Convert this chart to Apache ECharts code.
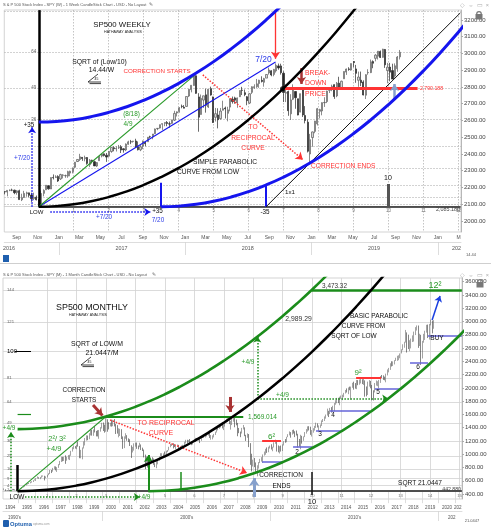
<!DOCTYPE html>
<html><head><meta charset="utf-8">
<script src="https://cdn.jsdelivr.net/npm/echarts@6.0.0/dist/echarts.min.js"></script>
<style>html,body{margin:0;padding:0;background:#fff}#c{width:491px;height:531px}</style>
</head><body><div id="c"></div>
<script>
// ================= DATA =================
// Weekly S&P 500 candles [open, high, low, close], one per week (Fridays) from weeklyStart
const weeklyStart = '2016-07-29';
const weeklyOHLC = [
[2175,2178,2159,2173.6],[2173,2183,2147,2182.9],[2183,2188,2178,2184.1],[2184,2193,2178,2183.9],[2184,2187,2160,2169.0],
[2170,2184,2157,2180.0],[2181,2187,2127,2127.8],[2127,2163,2119,2139.2],[2140,2180,2139,2164.7],[2164,2175,2145,2168.3],
[2168,2169,2142,2153.7],[2155,2169,2114,2133.0],[2134,2169,2124,2141.2],[2142,2152,2123,2126.4],[2127,2131,2084,2085.2],
[2090,2182,2084,2164.5],[2165,2189,2147,2181.9],[2186,2214,2186,2213.4],[2210,2214,2187,2191.9],[2191,2260,2191,2259.5],
[2260,2278,2248,2258.1],[2260,2273,2258,2263.8],[2266,2273,2233,2238.8],
[2251,2282,2245,2277.0],[2273,2279,2254,2274.6],[2270,2277,2258,2271.3],[2268,2300,2258,2294.7],[2286,2300,2267,2297.4],
[2294,2319,2284,2316.1],[2321,2352,2316,2351.2],[2355,2368,2352,2367.3],[2367,2401,2358,2383.1],[2380,2382,2359,2372.6],
[2372,2390,2356,2378.3],[2379,2382,2336,2344.0],[2336,2370,2322,2362.7],[2363,2366,2343,2355.5],[2354,2360,2328,2329.0],
[2328,2352,2322,2348.7],[2360,2392,2360,2384.2],[2388,2399,2380,2399.3],[2401,2403,2385,2390.9],[2393,2406,2353,2381.7],
[2387,2418,2383,2415.8],[2415,2440,2407,2439.1],[2437,2446,2416,2431.8],[2431,2446,2415,2433.2],[2437,2454,2430,2438.3],
[2443,2453,2406,2423.4],[2431,2434,2408,2425.2],[2424,2463,2417,2459.3],[2458,2479,2455,2472.5],[2473,2484,2459,2472.1],
[2475,2478,2468,2476.8],[2478,2491,2437,2441.3],[2444,2475,2421,2425.6],[2425,2454,2417,2443.1],[2447,2480,2429,2476.6],
[2470,2473,2446,2461.4],[2473,2500,2473,2500.2],[2503,2509,2496,2502.2],[2503,2519,2488,2519.4],[2521,2552,2520,2549.3],
[2551,2555,2542,2553.2],[2555,2575,2552,2575.2],[2578,2582,2544,2581.1],[2583,2588,2566,2587.8],[2588,2597,2566,2582.3],
[2580,2594,2557,2578.9],[2583,2605,2580,2602.4],[2602,2658,2597,2642.2],[2645,2654,2624,2651.5],[2653,2680,2647,2675.8],
[2685,2695,2673,2683.3],[2679,2692,2673,2673.6],
[2684,2743,2682,2743.2],[2746,2787,2740,2786.2],[2784,2810,2768,2810.3],[2809,2873,2808,2872.9],[2867,2870,2759,2762.1],
[2741,2763,2533,2619.6],[2636,2755,2635,2732.2],[2722,2748,2675,2747.3],[2753,2790,2647,2691.3],[2681,2787,2675,2786.6],
[2790,2802,2748,2752.0],[2741,2742,2585,2588.3],[2619,2675,2594,2640.9],[2633,2673,2553,2604.5],[2611,2675,2605,2656.3],
[2661,2718,2660,2670.1],[2675,2683,2612,2669.9],[2643,2682,2595,2663.4],[2680,2732,2655,2727.7],[2727,2743,2701,2713.0],
[2735,2742,2700,2721.3],[2705,2737,2676,2734.6],[2742,2779,2740,2779.0],[2781,2801,2752,2779.7],[2766,2785,2745,2754.9],
[2742,2746,2691,2718.4],[2704,2763,2698,2759.8],[2768,2804,2758,2801.3],[2797,2816,2789,2801.8],[2802,2848,2795,2818.8],
[2821,2843,2795,2840.4],[2840,2864,2827,2833.3],[2828,2855,2802,2850.1],[2853,2876,2853,2874.7],[2884,2916,2874,2901.5],
[2897,2900,2864,2871.7],[2875,2908,2864,2905.0],[2896,2941,2886,2929.7],[2926,2940,2903,2914.0],[2926,2939,2874,2885.6],
[2882,2894,2710,2767.1],[2763,2816,2710,2767.8],[2773,2778,2628,2658.7],[2640,2757,2603,2723.1],[2727,2816,2722,2781.0],
[2773,2775,2670,2736.3],[2730,2730,2631,2632.6],[2650,2760,2649,2760.2],[2790,2800,2621,2633.1],[2630,2686,2583,2600.0],
[2590,2607,2409,2416.6],[2400,2520,2346,2485.7],
[2498,2534,2443,2531.9],[2535,2598,2524,2596.3],[2580,2675,2570,2670.7],[2655,2670,2612,2664.8],[2657,2708,2631,2706.5],
[2706,2739,2681,2707.9],[2713,2778,2704,2775.6],[2780,2794,2764,2792.7],[2793,2814,2775,2803.7],[2814,2816,2729,2743.1],
[2747,2830,2739,2822.5],[2823,2861,2800,2800.7],[2797,2838,2785,2834.4],[2849,2893,2849,2892.7],[2889,2910,2872,2907.4],
[2908,2918,2897,2905.0],[2901,2940,2898,2939.9],[2952,2954,2918,2945.6],[2908,2932,2825,2881.4],[2840,2892,2801,2859.5],
[2841,2892,2805,2826.1],[2830,2840,2750,2752.1],[2751,2876,2728,2873.3],[2885,2906,2873,2887.0],[2886,2964,2883,2950.5],
[2952,2959,2912,2941.8],[2971,2996,2953,2990.4],[2984,3013,2964,3013.8],[3012,3018,2973,2976.6],[2977,3028,2975,3025.9],
[3024,3027,2914,2932.1],[2898,2944,2822,2918.7],[2919,2944,2834,2888.7],[2898,2939,2847,2847.1],[2866,2941,2856,2926.5],
[2909,2985,2891,2978.7],[2980,3021,2964,3007.4]
];
// Monthly S&P 500 candles [open, high, low, close], one per month from Feb 1994
const monthlyStart = [1994, 1];
const monthlyOHLC = [
[481,482,466,467.1],[467,471,445,445.8],[446,453,446,450.9],[451,458,446,456.5],[457,462,444,444.3],[444,459,444,458.3],[458,477,457,475.5],[475,476,460,462.7],[463,473,455,472.4],[472,474,449,453.7],[454,464,442.88,459.3],
[459,472,457,470.4],[470,489,469,487.4],[487,503,481,500.7],[501,515,500,514.7],[515,535,511,533.4],[533,551,531,544.8],[545,564,544,562.1],[562,565,553,561.9],[562,587,561,584.4],[584,590,574,581.5],[582,609,581,605.4],[605,622,605,615.9],
[616,639,597,636.0],[636,664,634,640.4],[640,656,627,645.5],[645,657,624,654.2],[654,680,646,669.1],[669,680,662,670.6],[671,675,605,639.9],[640,666,639,651.9],[652,690,650,687.3],[687,714,684,705.3],[705,762,701,757.0],[757,762,716,740.7],
[741,794,737,786.2],[786,818,773,790.8],[791,816,756,757.1],[757,805,733,801.3],[801,851,794,848.3],[848,899,836,885.1],[885,962,883,954.3],[954,961,893,899.5],[900,961,898,947.3],[947,983,855,914.6],[915,961,902,955.4],[955,987,922,970.4],
[970,992,912,980.3],[980,1051,976,1049.3],[1049,1106,1040,1101.8],[1102,1133,1076,1111.8],[1112,1122,1085,1090.8],[1091,1139,1075,1133.8],[1134,1191,1114,1120.7],[1121,1122,940,957.3],[957,1066,939,1017.0],[1017,1102,923,1098.7],[1099,1193,1086,1163.6],[1164,1245,1132,1229.2],
[1229,1284,1205,1279.6],[1280,1282,1211,1238.3],[1238,1317,1226,1286.4],[1286,1362,1283,1335.2],[1335,1368,1280,1301.8],[1302,1373,1277,1372.7],[1373,1421,1328,1328.7],[1329,1351,1269,1320.4],[1320,1361,1268,1282.7],[1283,1365,1233,1362.9],[1363,1408,1340,1388.9],[1389,1474,1387,1469.3],
[1469,1478,1350,1394.5],[1394,1445,1325,1366.4],[1366,1553,1339,1498.6],[1499,1527,1339,1452.4],[1452,1482,1374,1420.6],[1421,1474,1420,1454.6],[1455,1517,1416,1430.8],[1431,1518,1422,1517.7],[1518,1530,1419,1436.5],[1436,1455,1305,1429.4],[1429,1438,1311,1315.2],[1315,1390,1255,1320.3],
[1320,1383,1275,1366.0],[1366,1377,1228,1239.9],[1240,1268,1081,1160.3],[1160,1269,1092,1249.5],[1250,1316,1233,1255.8],[1256,1287,1203,1224.4],[1224,1239,1183,1211.2],[1211,1226,1124,1133.6],[1134,1134,944,1040.9],[1041,1111,1026,1059.8],[1060,1164,1054,1139.5],[1140,1173,1114,1148.1],
[1148,1176,1081,1130.2],[1130,1131,1074,1106.7],[1107,1173,1106,1147.4],[1147,1147,1063,1076.9],[1077,1099,1048,1067.1],[1067,1071,952,989.8],[990,994,775,911.6],[912,966,833,916.1],[916,925,800,815.3],[815,908,768,885.8],[886,952,872,936.3],[936,954,871,879.8],
[880,935,840,855.7],[856,864,806,841.2],[841,895,789,848.2],[848,924,847,916.9],[917,966,902,963.6],[964,1015,963,974.5],[975,1015,962,990.3],[990,1012,960,1008.0],[1008,1040,990,996.0],[996,1053,995,1050.7],[1051,1063,1032,1058.2],[1058,1112,1058,1111.9],
[1112,1155,1105,1131.1],[1131,1159,1124,1144.9],[1145,1164,1087,1126.2],[1126,1151,1107,1107.3],[1107,1128,1076,1120.7],[1121,1146,1113,1140.8],[1141,1141,1078,1101.7],[1102,1110,1060,1104.2],[1104,1132,1101,1114.6],[1115,1142,1090,1130.2],[1130,1188,1128,1173.8],[1174,1217,1163,1211.9],
[1212,1218,1164,1181.3],[1181,1213,1180,1203.6],[1204,1229,1176,1180.6],[1181,1192,1137,1156.9],[1157,1199,1146,1191.5],[1192,1219,1188,1191.3],[1191,1246,1184,1234.2],[1234,1245,1201,1220.3],[1220,1243,1205,1228.8],[1229,1233,1168,1207.0],[1207,1271,1202,1249.5],[1250,1276,1245,1248.3],
[1248,1295,1245,1280.1],[1280,1297,1253,1280.7],[1281,1310,1268,1294.9],[1295,1319,1280,1310.6],[1311,1326,1245,1270.1],[1270,1290,1219,1270.2],[1270,1284,1224,1276.7],[1277,1306,1253,1303.8],[1304,1340,1290,1335.9],[1336,1390,1327,1377.9],[1378,1407,1360,1400.6],[1401,1432,1385,1418.3],
[1418,1441,1403,1438.2],[1438,1461,1389,1406.8],[1407,1439,1364,1420.9],[1421,1499,1416,1482.4],[1482,1535,1476,1530.6],[1531,1540,1485,1503.4],[1503,1556,1454,1455.3],[1455,1503,1371,1474.0],[1474,1539,1439,1526.8],[1527,1576,1490,1549.4],[1549,1553,1406,1481.1],[1481,1523,1436,1468.4],
[1468,1472,1271,1378.6],[1379,1396,1317,1330.6],[1331,1341,1257,1322.7],[1323,1397,1312,1385.6],[1386,1441,1373,1400.4],[1400,1405,1272,1280.0],[1280,1292,1200,1267.4],[1267,1314,1248,1282.8],[1283,1304,1107,1166.4],[1166,1167,840,968.8],[969,1007,741,896.2],[896,918,815,903.3],
[903,944,805,825.9],[826,876,735,735.1],[735,833,667,797.9],[798,882,783,872.8],[873,930,866,919.1],[919,956,889,919.3],[919,997,869,987.5],[988,1040,979,1020.6],[1021,1081,992,1057.1],[1057,1102,1020,1036.2],[1036,1113,1030,1095.6],[1096,1130,1086,1115.1],
[1115,1150,1071,1073.9],[1074,1113,1045,1104.5],[1105,1180,1101,1169.4],[1169,1220,1157,1186.7],[1187,1206,1040,1089.4],[1089,1132,1029,1030.7],[1031,1121,1011,1101.6],[1102,1130,1040,1049.3],[1049,1149,1048,1141.2],[1141,1196,1132,1183.3],[1183,1228,1173,1180.6],[1181,1263,1181,1257.6],
[1258,1302,1257,1286.1],[1286,1344,1284,1327.2],[1327,1333,1249,1325.8],[1326,1366,1295,1363.6],[1364,1371,1311,1345.2],[1345,1346,1258,1320.6],[1321,1357,1282,1292.3],[1292,1308,1101,1218.9],[1219,1230,1115,1131.4],[1131,1293,1074,1253.3],[1253,1277,1159,1247.0],[1247,1269,1202,1257.6],
[1258,1334,1258,1312.4],[1312,1378,1311,1365.7],[1366,1420,1341,1408.5],[1408,1422,1358,1397.9],[1398,1415,1292,1310.3],[1310,1364,1267,1362.2],[1362,1392,1325,1379.3],[1379,1427,1355,1406.6],[1407,1475,1397,1440.7],[1441,1465,1403,1412.2],[1412,1434,1343,1416.2],[1416,1449,1398,1426.2],
[1426,1510,1426,1498.1],[1498,1531,1485,1514.7],[1515,1570,1501,1569.2],[1569,1598,1536,1597.6],[1598,1687,1582,1630.7],[1631,1654,1560,1606.3],[1606,1698,1605,1685.7],[1686,1710,1627,1633.0],[1633,1730,1633,1681.6],[1682,1772,1647,1756.5],[1757,1814,1746,1805.8],[1806,1849,1768,1848.4],
[1848,1850,1770,1782.6],[1783,1867,1738,1859.5],[1859,1884,1834,1872.3],[1872,1897,1815,1883.9],[1884,1925,1860,1923.6],[1924,1968,1915,1960.2],[1960,1992,1930,1930.7],[1931,2006,1905,2003.4],[2003,2019,1964,1972.3],[1972,2019,1821,2018.1],[2018,2076,2001,2067.6],[2068,2093,1973,2058.9],
[2059,2072,1988,1995.0],[1995,2119,1981,2104.5],[2105,2117,2040,2067.9],[2068,2126,2048,2085.5],[2086,2135,2067,2107.4],[2107,2130,2057,2063.1],[2063,2133,2044,2103.8],[2104,2113,1867,1972.2],[1972,2021,1872,1920.0],[1920,2094,1893,2079.4],[2079,2117,2019,2080.4],[2080,2105,1993,2043.9],
[2044,2044,1812,1940.2],[1940,1963,1810,1932.2],[1932,2073,1931,2059.7],[2060,2112,2034,2065.3],[2065,2100,2025,2096.9],[2097,2120,1992,2098.9],[2099,2178,2075,2173.6],[2174,2194,2148,2170.9],[2171,2188,2120,2168.3],[2168,2169,2114,2126.2],[2126,2214,2084,2199.0],[2199,2278,2188,2238.8],
[2239,2301,2234,2278.9],[2279,2371,2271,2363.6],[2364,2401,2322,2362.7],[2363,2399,2329,2384.2],[2384,2418,2353,2411.8],[2412,2454,2405,2423.4],[2423,2484,2407,2470.3],[2470,2491,2417,2471.7],[2472,2519,2446,2519.4],[2519,2582,2519,2575.3],[2575,2657,2566,2647.6],[2648,2695,2605,2673.6],
[2683,2873,2682,2823.8],[2824,2836,2533,2713.8],[2714,2802,2585,2640.9],[2641,2718,2553,2648.1],[2648,2743,2595,2705.3],[2705,2791,2691,2718.4],[2718,2848,2698,2816.3],[2816,2916,2796,2901.5],[2902,2941,2864,2914.0],[2914,2940,2603,2711.7],[2712,2816,2631,2760.2],[2760,2800,2346,2506.9],
[2507,2708,2443,2704.1],[2704,2814,2681,2784.5],[2785,2861,2722,2834.4],[2834,2950,2832,2945.8],[2946,2954,2751,2752.1],[2752,2964,2728,2941.8],[2942,3028,2942,2980.4],[2980,3014,2822,2926.5],[2926,3021,2891,3007.4]
];

// Gann construction: curves as [time units from LOW, square units above LOW]
const wUpperBlue = [[0,35],[0.5,35.25],[1,36],[1.5,37.25],[2,39],[2.5,41.25],[3,44],[3.5,47.25],[4,51],[4.5,55.25],[5,60],[5.5,65.25],[6,71],[6.5,77.25],[7,84]];
const wSimpleCurve = [[0,0],[0.5,0.25],[1,1],[1.5,2.25],[2,4],[2.5,6.25],[3,9],[3.5,12.25],[4,16],[4.5,20.25],[5,25],[5.5,30.25],[6,36],[6.5,42.25],[7,49],[7.5,56.25],[8,64],[8.5,72.25],[9,81],[9.5,90.25]];
const wLowerBlue = [[3.5,0],[4,0.25],[4.5,1],[5,2.25],[5.5,4],[6,6.25],[6.5,9],[7,12.25],[7.5,16],[8,20.25],[8.5,25],[9,30.25],[9.5,36],[10,42.25],[10.5,49],[11,56.25],[11.5,64],[12,72.25],[12.5,81]];
const mUpperGreen = [[0,44.44],[0.5,44.69],[1,45.44],[1.5,46.69],[2,48.44],[2.5,50.69],[3,53.44],[3.5,56.69],[4,60.44],[4.5,64.69],[5,69.44],[5.5,74.69],[6,80.44],[6.5,86.69],[7,93.44],[7.5,100.69],[8,108.44],[8.5,116.69],[9,125.44],[9.5,134.69],[10,144.44],[10.5,154.69],[11,165.44]];
const mBasicCurve = [[0,0],[0.5,0.25],[1,1],[1.5,2.25],[2,4],[2.5,6.25],[3,9],[3.5,12.25],[4,16],[4.5,20.25],[5,25],[5.5,30.25],[6,36],[6.5,42.25],[7,49],[7.5,56.25],[8,64],[8.5,72.25],[9,81],[9.5,90.25],[10,100],[10.5,110.25],[11,121],[11.5,132.25],[12,144],[12.5,156.25]];
const mLowerGreen = [[4.44,0],[5,0.31],[5.5,1.12],[6,2.43],[6.5,4.24],[7,6.55],[7.5,9.36],[8,12.67],[8.5,16.48],[9,20.79],[9.5,25.6],[10,30.91],[10.5,36.72],[11,43.03],[11.5,49.84],[12,57.15],[12.5,64.96],[13,73.27],[13.5,82.08],[14,91.39],[14.5,101.2],[15,111.5],[15.5,122.3]];

// Tick labels
const wkPriceTicks = [2000,2100,2200,2300,2400,2500,2600,2700,2800,2900,3000,3100,3200];
const moPriceTicks = [400,600,800,1000,1200,1400,1600,1800,2000,2200,2400,2600,2800,3000,3200,3400,3600];
const wSquares = [1,4,9,16,25,36,49,64,81];
const wSquareLabels = [36,49,64];
const mSquares = [1,4,9,16,25,36,49,64,81,100,121,144];
const wGannT = [1,2,3,4,5,6,7,8,9,10,11,12];
const mGannT = [1,2,3,4,5,6,7,8,9,10,11,12,13,14,15];
const wkMonthDates = ['2016-09-01','2016-11-01','2017-01-01','2017-03-01','2017-05-01','2017-07-01','2017-09-01','2017-11-01','2018-01-01','2018-03-01','2018-05-01','2018-07-01','2018-09-01','2018-11-01','2019-01-01','2019-03-01','2019-05-01','2019-07-01','2019-09-01','2019-11-01','2020-01-01','2020-03-01'];
const wkMonthLabels = ['Sep','Nov','Jan','Mar','May','Jul','Sep','Nov','Jan','Mar','May','Jul','Sep','Nov','Jan','Mar','May','Jul','Sep','Nov','Jan','M'];
const wkYearDates = ['2016-08-10','2017-07-01','2018-07-01','2019-07-01','2020-02-24'];
const wkYearLabels = ['2016','2017','2018','2019','202'];
const wkYearSeps = ['2017-01-01','2018-01-01','2019-01-01','2020-01-01'];
const moYearLabels = ['1994','1995','1996','1997','1998','1999','2000','2001','2002','2003','2004','2005','2006','2007','2008','2009','2010','2011','2012','2013','2014','2015','2016','2017','2018','2019','2020','202'];
const moYearDates = ['1994-07-01','1995-07-01','1996-07-01','1997-07-01','1998-07-01','1999-07-01','2000-07-01','2001-07-01','2002-07-01','2003-07-01','2004-07-01','2005-07-01','2006-07-01','2007-07-01','2008-07-01','2009-07-01','2010-07-01','2011-07-01','2012-07-01','2013-07-01','2014-07-01','2015-07-01','2016-07-01','2017-07-01','2018-07-01','2019-07-01','2020-07-01','2021-02-20'];
const moDecadeLabels = ["1990's","2000's","2010's",'202'];
const moDecadeDates = ['1994-10-01','2005-01-01','2015-01-01','2020-10-10'];
const moDecadeSeps = ['2000-01-01','2010-01-01','2020-01-01'];

// ================= SCALES =================
const DAY = 86400000;
const W_LOW_DATE = Date.UTC(2016,10,4), W_LOW = 2085.18, W_STEP = 14.44, W_UNIT = 14.44*7*DAY;
const M_LOW_DATE = Date.UTC(1994,11,8), M_LOW = 442.88, M_STEP = 21.0447, M_UNIT = 21.0447*30.4375*DAY;
const tw = t => W_LOW_DATE + t*W_UNIT;
const tm = t => M_LOW_DATE + t*M_UNIT;
const W_MIN = tw(-34.5/35), W_MAX = tw(422.5/35);
const M_MIN = tm(-14.6/29.46), M_MAX = tm(444.4/29.46);
const W_PMIN = 1934.3, W_PMAX = 3259.7, M_PMIN = 325, M_PMAX = 3656;
const D = s => Date.parse(s);

const wkData = weeklyOHLC.map((r,i)=>[D(weeklyStart)+i*7*DAY, r[0], r[3], r[2], r[1]]);
const moData = monthlyOHLC.map((r,i)=>[Date.UTC(monthlyStart[0], monthlyStart[1]+i, 15), r[0], r[3], r[2], r[1]]);

const nearest = (vals, labels) => v => { let bi=0, bd=Infinity; vals.forEach((x,i)=>{const d=Math.abs(x-v); if(d<bd){bd=d;bi=i;}}); return labels[bi]; };

const F = '"Liberation Sans", Arial, sans-serif';
const RED='#ff3434', DARKRED='#a83232', BLUE='#1515ee', BLUE_T='#2a3ae8', GREEN='#1b8c1b', GREEN_T='#2a9a2a', BLUEGRAY='#86a0cc', SLATE='#6464d8';

const wGannTs = wGannT.map(tw), mGannTs = mGannT.map(tm);
const wkMonthTs = wkMonthDates.map(D), wkYearTs = wkYearDates.map(D), wkYearSepTs = wkYearSeps.map(D);
const moYearTs = moYearDates.map(D), moYearSepTs = moYearDates.slice(1).map(s=>D(s.slice(0,4)+'-01-01'));
const moDecTs = moDecadeDates.map(D), moDecSepTs = moDecadeSeps.map(D);

function curve(pts, grid, color, width){
  const g = grid===0;
  return {type:'line', xAxisIndex:g?0:3, yAxisIndex:g?0:2, silent:true, z:5, smooth:true, symbol:'none',
    data: pts.map(p=>[(g?tw:tm)(p[0]), (g?W_LOW:M_LOW)+(g?W_STEP:M_STEP)*p[1]]),
    lineStyle:{color, width}};
}
function host(grid, segs){
  const g = grid===0, tf = g?tw:tm;
  return {type:'line', xAxisIndex:g?0:3, yAxisIndex:g?0:2, silent:true, z:6, symbol:'none',
    data:[[tf(1), g?W_LOW:M_LOW]], lineStyle:{opacity:0},
    markLine:{silent:true, symbol:['none','none'], label:{show:false}, emphasis:{disabled:true}, animation:false,
      data: segs.map(s=>[
        {coord:[tf(s[0]), s[1]], symbol:'none', lineStyle:{color:s[4], width:s[5], type:s[6]||'solid', opacity:1}},
        {coord:[tf(s[2]), s[3]], symbol: s[7]?'arrow':'none', symbolSize: s[7]||1}
      ])}};
}

// straight construction lines [t1, price1, t2, price2, color, width, style, arrowSize]
const wSegs = [
 [0,W_LOW, 12.06,W_LOW, '#222',1.5],
 [0,W_LOW, 0,3259, '#000',2.5],
 [3.5,W_LOW, 3.5,2228, BLUE,2],
 [6.5,W_LOW, 6.5,2215, BLUE,2],
 [10,W_LOW, 10,2221, '#555',3],
 [6.5,W_LOW, 12.05,3242, '#111',1],
 [0,W_LOW, 6.77,2949, BLUE,1.1],
 [0,W_LOW, 4.43,2866, GREEN_T,1.1],
 [4.69,2872, 7.55,2366, RED,1.5,'dotted',7],
 [6.77,3259, 6.77,2968, RED,1.3,'solid',7],
 [6.97,2790.188, 10.83,2790.188, RED,3],
 [7.51,2913, 7.51,2818, DARKRED,2.5,'solid',7],
 [10.17,2728, 10.17,2818, BLUEGRAY,2.5,'solid',7],
 [-0.19,W_LOW, -0.19,2560, BLUE,1.5,'dotted',6],
 [0.33,2054, 3.19,2054, BLUE,1.5,'dotted',6]
];
const mSegs = [
 [0,M_LOW, 15.08,M_LOW, '#222',1.5],
 [0,M_LOW, 0,837, '#000',2.5],
 [0,M_LOW, 3.0,1569, GREEN_T,1.1],
 [3.0,1569.014, 7.66,1569.014, GREEN,2],
 [9.99,3473.32, 15.08,3473.32, GREEN,2.5],
 [3.14,1516, 7.79,717, RED,1.5,'dotted',7],
 [2.56,1742, 2.88,1585, DARKRED,3,'solid',7],
 [7.21,1863, 7.21,1637, DARKRED,3,'solid',7],
 [-0.224,M_LOW, -0.224,1335, GREEN,1.5,'dotted',6],
 [0.25,355, 4.15,355, GREEN,1.5,'dotted',6],
 [4.44,M_LOW, 4.44,988, GREEN,2,'solid',7],
 [5.55,M_LOW, 5.55,732, GREEN,1.5],
 [10,732, 10,385, '#111',1.5],
 [8.03,355, 8.03,641, BLUEGRAY,3,'solid',8],
 [8.14,1838, 8.14,2773, GREEN,1.5,'dotted',6],
 [8.14,1838, 12.58,1838, GREEN,1.5,'dotted',6],
 [8.3,1200, 8.94,1200, RED,2],
 [11.49,2147, 12.34,2147, RED,2],
 [8.3,882.6, 8.98,882.6, SLATE,1.5],
 [9.35,1109, 10.0,1109, SLATE,1.5],
 [10.13,1350, 10.98,1350, SLATE,1.5],
 [10.6,1652, 11.96,1652, SLATE,1.5],
 [12.13,1983, 12.98,1983, SLATE,1.5],
 [13.32,2376, 13.93,2376, SLATE,1.5],
 [13.93,2783, 15.08,2783, SLATE,1.5],
 [14.07,3024, 14.34,3386, '#1a3fe0',1.5,'solid',6],
 [0,1606, 0.455,1606, GREEN,1.2],
 [-0.09,2547.35, 0.455,2547.35, '#000',1]
];

function T(text,x,y,size,color,align,weight){
  return {type:'text', silent:true, z:100, style:{text, x, y, fill:color||'#111',
    font:(weight||'normal')+' '+size+'px '+F, align:align||'center', verticalAlign:'middle',
    textAlign:align||'center', textVerticalAlign:'middle'}};
}
function angle(x,y){
  return [
    {type:'polyline', silent:true, z:100, shape:{points:[[x+10,y-8],[x,y],[x+13,y]]}, style:{stroke:'#111', lineWidth:0.8, fill:'none'}},
    {type:'line', silent:true, z:100, shape:{x1:x+1.5,y1:y+1.6,x2:x+13,y2:y+1.6}, style:{stroke:'#111', lineWidth:0.8}},
    T('45', x+8.5, y-2.6, 3.4, '#111')
  ];
}
function lock(x,y){
  return [
    {type:'rect', silent:true, z:100, shape:{x:x-3.5,y:y-1,width:7,height:5.5}, style:{fill:'#777'}},
    {type:'arc', silent:true, z:100, shape:{cx:x, cy:y-1, r:2.3, startAngle:Math.PI, endAngle:2*Math.PI}, style:{stroke:'#777', lineWidth:1.2, fill:'none'}}
  ];
}

const graphics = [
  {type:'line', silent:true, z:90, shape:{x1:0,y1:263.5,x2:491,y2:263.5}, style:{stroke:'#cfcfcf', lineWidth:1}},
  T('S & P 500 Stock Index - SPY (W) - 1 Week CandleStick Chart - USD - No Layout', 3, 5, 4, '#555', 'left'),
  T('\u270E', 149, 5, 5, '#666', 'left'),
  T('\u25C7  \u21D4  \u25AD  \u00D7', 489, 5, 5.5, '#aaa', 'right'),
  T('SP500 WEEKLY', 122, 25, 7.8, '#111'),
  T('HATHAWAY ANALYSIS', 123, 31.5, 3.6, '#222'),
  T('SQRT of (Low/10)', 99.5, 62, 6.8),
  T('14.44/W', 101.5, 70, 6.8),
  T('CORRECTION STARTS', 157, 71, 6.2, RED),
  T('(8/18)', 131.5, 114, 6.4, GREEN_T),
  T('4/9', 128, 124, 6.4, GREEN_T),
  T('+35', 29, 125, 6.3),
  T('+7/20', 22, 158, 6.4, BLUE_T),
  T('LOW', 36.5, 212, 6),
  T('+7/20', 104, 217, 6.4, BLUE_T),
  T('+35', 157.5, 211, 6.3),
  T('7/20', 158, 220, 6.4, BLUE_T),
  T('SIMPLE PARABOLIC', 225, 162, 6.7),
  T('CURVE FROM LOW', 208, 172, 6.7),
  T('TO', 253, 127, 6.7, RED), T('RECIPROCAL', 253, 138, 6.7, RED), T('CURVE', 253, 148, 6.7, RED),
  T('CORRECTION ENDS', 311, 166, 6.6, RED, 'left'),
  T('-35', 265, 212, 6.3),
  T('1x1', 290, 192, 6.2),
  T('10', 388, 178, 7),
  T('2,085.180', 460, 210, 5.4, '#444', 'right'),
  T('7/20', 263.5, 60, 8.5, BLUE_T),
  T('BREAK-', 305, 73, 6.8, RED, 'left'), T('DOWN', 305, 83, 6.8, RED, 'left'), T('PRICE', 305, 94, 6.8, RED, 'left'),
  T('2,790.188', 420, 88.5, 5.2, RED, 'left'),
  T('14.44', 471, 255, 4, '#555'),
  {type:'rect', silent:true, z:100, shape:{x:3,y:255,width:6,height:7}, style:{fill:'#1f5fae'}},
  ...angle(88,82), ...lock(479,15),

  T('S & P 500 Stock Index - SPY (M) - 1 Month CandleStick Chart - USD - No Layout', 3, 275, 4, '#555', 'left'),
  T('\u270E', 152, 275, 5, '#666', 'left'),
  T('\u25C7  \u21D4  \u25AD  \u00D7', 489, 275, 5.5, '#aaa', 'right'),
  T('SP500 MONTHLY', 92, 308, 8.9, '#111'),
  T('HATHAWAY ANALYSIS', 88, 315, 3.6, '#222'),
  T('SQRT of LOW/M', 97, 344, 6.9),
  T('21.0447/M', 102, 353, 7),
  T('CORRECTION', 84, 390, 6.4), T('STARTS', 84, 400, 6.4),
  T('TO RECIPROCAL', 166, 423, 7, RED), T('CURVE', 161, 433, 7, RED),
  T('2\u00B2/ 3\u00B2', 57, 439, 7.5, GREEN_T), T('+4/9', 54, 449, 7.5, GREEN_T),
  T('+4/9', 9, 428, 6.5, GREEN_T),
  T('LOW', 17, 497, 6.5),
  T('+4/9', 144, 497, 6.5, GREEN_T),
  T('1,569.014', 248, 417, 6.5, GREEN_T, 'left'),
  T('6\u00B2', 271.5, 437, 8, GREEN_T),
  T('CORRECTION', 281, 475, 6.5), T('ENDS', 281.5, 486, 6.5),
  T('10', 312, 502, 7.5),
  T('SQRT 21.0447', 420, 483, 6.6),
  T('442.880', 461, 490, 5.2, '#444', 'right'),
  T('2', 297, 452, 6.5), T('3', 320, 434, 6.5), T('4', 333, 415, 6.5), T('5', 378, 392, 6.5), T('6', 418, 367, 6.5),
  T('BUY', 437, 338, 6.5),
  T('9\u00B2', 358, 373, 8, GREEN_T),
  T('12\u00B2', 435, 286, 9, GREEN_T),
  T('3,473.32', 334.5, 286, 6.4, '#333'),
  T('2,989.29', 298.5, 319, 6.8, '#333'),
  T('+4/9', 248, 362, 6.5, GREEN_T), T('+4/9', 282.5, 395, 6.5, GREEN_T),
  T('BASIC PARABOLIC', 379, 316, 6.5), T('CURVE FROM', 363.5, 326, 6.5), T('SQRT OF LOW', 354, 336, 6.5),
  {type:'rect', silent:true, z:100, shape:{x:3,y:520,width:6,height:7,r:1}, style:{fill:'#1f5fae'}},
  T('Optuma', 10, 524, 5.8, '#1f5fae', 'left', 'bold'),
  T('optuma.com', 33, 524, 3, '#999', 'left'),
  T('21.0447', 472, 521, 4, '#555'),
  ...angle(81,365), ...lock(480,283)
];

const xLab = {fontSize:5, color:'#555', fontFamily:F};
const option = {
  animation:false,
  backgroundColor:'#fff',
  grid:[
    {left:4, top:10, width:457, height:222, show:true, borderColor:'#c8c8c8', borderWidth:0.8},
    {left:3, top:278, width:459, height:221, show:true, borderColor:'#c8c8c8', borderWidth:0.8}
  ],
  xAxis:[
    {type:'value', gridIndex:0, min:W_MIN, max:W_MAX, position:'bottom',
     axisLine:{show:true, lineStyle:{color:'#c8c8c8', width:0.8}}, axisTick:{show:false}, splitLine:{show:false},
     axisLabel:Object.assign({customValues:wkMonthTs, formatter:nearest(wkMonthTs, wkMonthLabels), margin:3}, xLab)},
    {type:'value', gridIndex:0, min:W_MIN, max:W_MAX, position:'bottom', offset:10,
     axisLine:{show:true, lineStyle:{color:'#d4d4d4', width:0.8}},
     axisTick:{show:true, customValues:wkYearSepTs, length:13, lineStyle:{color:'#d4d4d4', width:0.8}}, splitLine:{show:false},
     axisLabel:Object.assign({customValues:wkYearTs, formatter:nearest(wkYearTs, wkYearLabels), margin:4}, xLab, {fontSize:5.4})},
    {type:'value', gridIndex:0, min:W_MIN, max:W_MAX, position:'bottom', offset:-25,
     axisLine:{show:false}, axisTick:{show:false, customValues:wGannTs},
     splitLine:{show:true, lineStyle:{color:'#b5b5b5', width:0.8, type:[1.5,1.5]}},
     axisLabel:{customValues:wGannTs, formatter:nearest(wGannTs, wGannT.map(String)), fontSize:4.5, color:'#777', margin:1.5, fontFamily:F}},
    {type:'value', gridIndex:1, min:M_MIN, max:M_MAX, position:'bottom',
     axisLine:{show:true, lineStyle:{color:'#c8c8c8', width:0.8}},
     axisTick:{show:true, customValues:moYearSepTs, length:12, lineStyle:{color:'#d4d4d4', width:0.8}}, splitLine:{show:false},
     axisLabel:Object.assign({customValues:moYearTs, formatter:nearest(moYearTs, moYearLabels), margin:6}, xLab, {fontSize:4.6})},
    {type:'value', gridIndex:1, min:M_MIN, max:M_MAX, position:'bottom', offset:12,
     axisLine:{show:true, lineStyle:{color:'#d4d4d4', width:0.8}},
     axisTick:{show:true, customValues:moDecSepTs, length:10, lineStyle:{color:'#d4d4d4', width:0.8}}, splitLine:{show:false},
     axisLabel:Object.assign({customValues:moDecTs, formatter:nearest(moDecTs, moDecadeLabels), margin:4}, xLab, {fontSize:4.5})},
    {type:'value', gridIndex:1, min:M_MIN, max:M_MAX, position:'bottom', offset:-7,
     axisLine:{show:false}, axisTick:{show:false, customValues:mGannTs},
     splitLine:{show:true, lineStyle:{color:'#d2d2d2', width:0.8}},
     axisLabel:{customValues:mGannTs, formatter:nearest(mGannTs, mGannT.map(String)), fontSize:4.2, color:'#777', margin:1.5, fontFamily:F}}
  ],
  yAxis:[
    {type:'value', gridIndex:0, position:'right', min:W_PMIN, max:W_PMAX,
     axisLine:{show:true, lineStyle:{color:'#aaa', width:0.8}}, axisTick:{show:true, customValues:wkPriceTicks, length:2, lineStyle:{color:'#aaa'}},
     splitLine:{show:false}, axisLabel:{customValues:wkPriceTicks, formatter:v=>v.toFixed(2), fontSize:6, color:'#444', margin:3, fontFamily:F}},
    {type:'value', gridIndex:0, position:'left', offset:-34, min:(W_PMIN-W_LOW)/W_STEP, max:(W_PMAX-W_LOW)/W_STEP,
     axisLine:{show:false}, axisTick:{show:false, customValues:wSquares},
     splitLine:{show:true, lineStyle:{color:'#b5b5b5', width:0.8, type:[1.5,1.5]}},
     axisLabel:{customValues:wSquareLabels, fontSize:4.5, color:'#666', margin:2, fontFamily:F}},
    {type:'value', gridIndex:1, position:'right', min:M_PMIN, max:M_PMAX,
     axisLine:{show:true, lineStyle:{color:'#aaa', width:0.8}}, axisTick:{show:true, customValues:moPriceTicks, length:2, lineStyle:{color:'#aaa'}},
     splitLine:{show:false}, axisLabel:{customValues:moPriceTicks, formatter:v=>v.toFixed(2), fontSize:6, color:'#444', margin:3, fontFamily:F}},
    {type:'value', gridIndex:1, position:'left', min:(M_PMIN-M_LOW)/M_STEP, max:(M_PMAX-M_LOW)/M_STEP,
     axisLine:{show:false}, axisTick:{show:false, customValues:mSquares},
     splitLine:{show:true, lineStyle:{color:'#d2d2d2', width:0.8}},
     axisLabel:{customValues:mSquares, inside:true, margin:4, fontFamily:F,
       formatter:v=> v===100 ? '{b|100}' : '{s|'+v+'}',
       rich:{s:{fontSize:4.2, color:'#666'}, b:{fontSize:6, color:'#000'}}}}
  ],
  series:[
    {type:'candlestick', xAxisIndex:0, yAxisIndex:0, data:wkData, barWidth:1.7, z:2, silent:true,
     itemStyle:{color:'#d6d6d6', color0:'#2a2a2a', borderColor:'#5a5a5a', borderColor0:'#2a2a2a', borderWidth:0.7}},
    {type:'candlestick', xAxisIndex:3, yAxisIndex:2, data:moData, barWidth:1.1, z:2, silent:true,
     itemStyle:{color:'#d0d0d0', color0:'#333', borderColor:'#666', borderColor0:'#333', borderWidth:0.6}},
    curve(wUpperBlue, 0, BLUE, 3),
    curve(wLowerBlue, 0, BLUE, 3),
    curve(wSimpleCurve, 0, '#000', 2.5),
    curve(mUpperGreen, 1, GREEN, 2.6),
    curve(mLowerGreen, 1, GREEN, 2.6),
    curve(mBasicCurve, 1, '#000', 2.5),
    host(0, wSegs),
    host(1, mSegs),
    {type:'scatter', xAxisIndex:0, yAxisIndex:0, silent:true, z:7, symbolSize:5, itemStyle:{color:'#000'}, data:[[tw(6.97), 2790.188]]}
  ],
  graphic: graphics
};
const chart = echarts.init(document.getElementById('c'), null, {renderer:'canvas', width:491, height:531});
chart.setOption(option);
</script>
</body></html>
